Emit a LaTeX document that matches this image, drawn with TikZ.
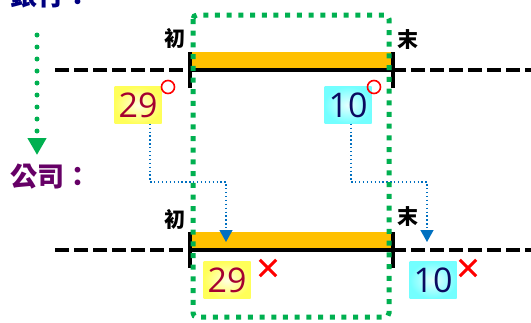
\documentclass[tikz,border=0pt]{standalone}
\usepackage{fontspec}
\newfontfamily\cjk{Noto Sans CJK TC}
\newfontfamily\numfont{Open Sans}
\usetikzlibrary{arrows.meta, positioning}
\definecolor{grn}{HTML}{00B050}
\definecolor{barorange}{HTML}{FFC000}
\definecolor{linkblue}{HTML}{0070C0}
\definecolor{numred}{HTML}{A50030}
\definecolor{numnavy}{HTML}{0A0A60}
\definecolor{bankblue}{HTML}{000080}
\definecolor{firmpurple}{HTML}{660066}

\begin{document}
\begin{tikzpicture}[x=1pt,y=-1pt,
    solidaxis/.style={line width=4pt},
    dashaxis/.style={line width=4pt, dash pattern=on 14pt off 5pt},
    tickline/.style={line width=3.5pt},
    bar/.style={fill=barorange, draw=none},
    endlabel/.style={font=\cjk\bfseries\fontsize{21}{21}\selectfont, inner sep=0pt},
    title/.style={font=\cjk\bfseries\fontsize{27}{27}\selectfont, inner sep=0pt},
    numbox/.style={shading=radial, minimum width=47pt, minimum height=37pt,
        inner sep=0pt, font=\numfont\fontsize{34}{34}\selectfont},
    yelbox/.style={numbox, inner color=yellow!12, outer color=yellow!65, text=numred},
    cyanbox/.style={numbox, inner color=cyan!10, outer color=cyan!55, text=numnavy},
    okring/.style={draw=red, line width=1.6pt, circle, minimum size=13pt, inner sep=0pt},
    link/.style={linkblue, line width=1.3pt, dash pattern=on 1.3pt off 2.6pt,
        -{Triangle[width=13pt,length=12pt]}},
    cross/.style={red, line width=3pt}]

\clip (0,0) rectangle (531,322);

% titles
\node[title, text=bankblue, anchor=west] (bank) at (10,-5) {銀行：};
\node[title, text=firmpurple, anchor=west] (firm) at (10,177) {公司：};
\coordinate (gtop) at (37,35);
\coordinate (gbot) at (37,155);
\draw[grn, line width=5pt, line cap=round, dash pattern=on 0pt off 12pt,
    -{Triangle[width=18pt,length=17pt]}] (gtop) -- (gbot);

% bank line
\coordinate (tL) at (55,70);  \coordinate (tA) at (190,70);
\coordinate (tB) at (392,70); \coordinate (tR) at (531,70);
\fill[bar] (190,52) rectangle (392,68);
\draw[dashaxis] (tL) -- (tA);
\draw[solidaxis] (tA) -- (tB);
\draw[dashaxis] (tB) -- (tR);
\draw[tickline] (190,52) -- (190,88);
\draw[tickline] (393,52) -- (393,88);
\node[endlabel] (tbeg) at (175,38) {初};
\node[endlabel] (tend) at (408,40) {末};

% firm line
\coordinate (bL) at (55,250);  \coordinate (bA) at (190,250);
\coordinate (bB) at (392,250); \coordinate (bR) at (531,250);
\fill[bar] (190,232) rectangle (392,248);
\draw[dashaxis] (bL) -- (bA);
\draw[solidaxis] (bA) -- (bB);
\draw[dashaxis] (bB) -- (bR);
\draw[tickline] (190,232) -- (190,268);
\draw[tickline] (393,232) -- (393,268);
\node[endlabel] (bbeg) at (175,219) {初};
\node[endlabel] (bend) at (408,217) {末};

% dates
\node[yelbox] (d29) at (138,105) {29};
\node[cyanbox] (d10) at (348,105) {10};
\node[okring] (ok29) at (168,87) {};
\node[okring] (ok10) at (374,87) {};
\node[yelbox] (e29) at (227,280) {29};
\node[cyanbox] (e10) at (433,280) {10};

\coordinate (a29) at (226,242);
\coordinate (a10) at (427,242);
\draw[link] (d29.south -| 150,0) |- (182,182) -| (a29);
\draw[link] (d10.south -| 351,0) |- (390,182) -| (a10);

% crosses
\node[minimum size=16pt, inner sep=0pt] (x29) at (268,268) {};
\node[minimum size=16pt, inner sep=0pt] (x10) at (468,268) {};
\draw[cross] (x29.north west) -- (x29.south east) (x29.north east) -- (x29.south west);
\draw[cross] (x10.north west) -- (x10.south east) (x10.north east) -- (x10.south west);

% period box
\draw[grn, line width=5pt, dash pattern=on 5pt off 6.7pt, rounded corners=4pt]
    (193,15) rectangle (389,317);
\end{tikzpicture}
\end{document}
